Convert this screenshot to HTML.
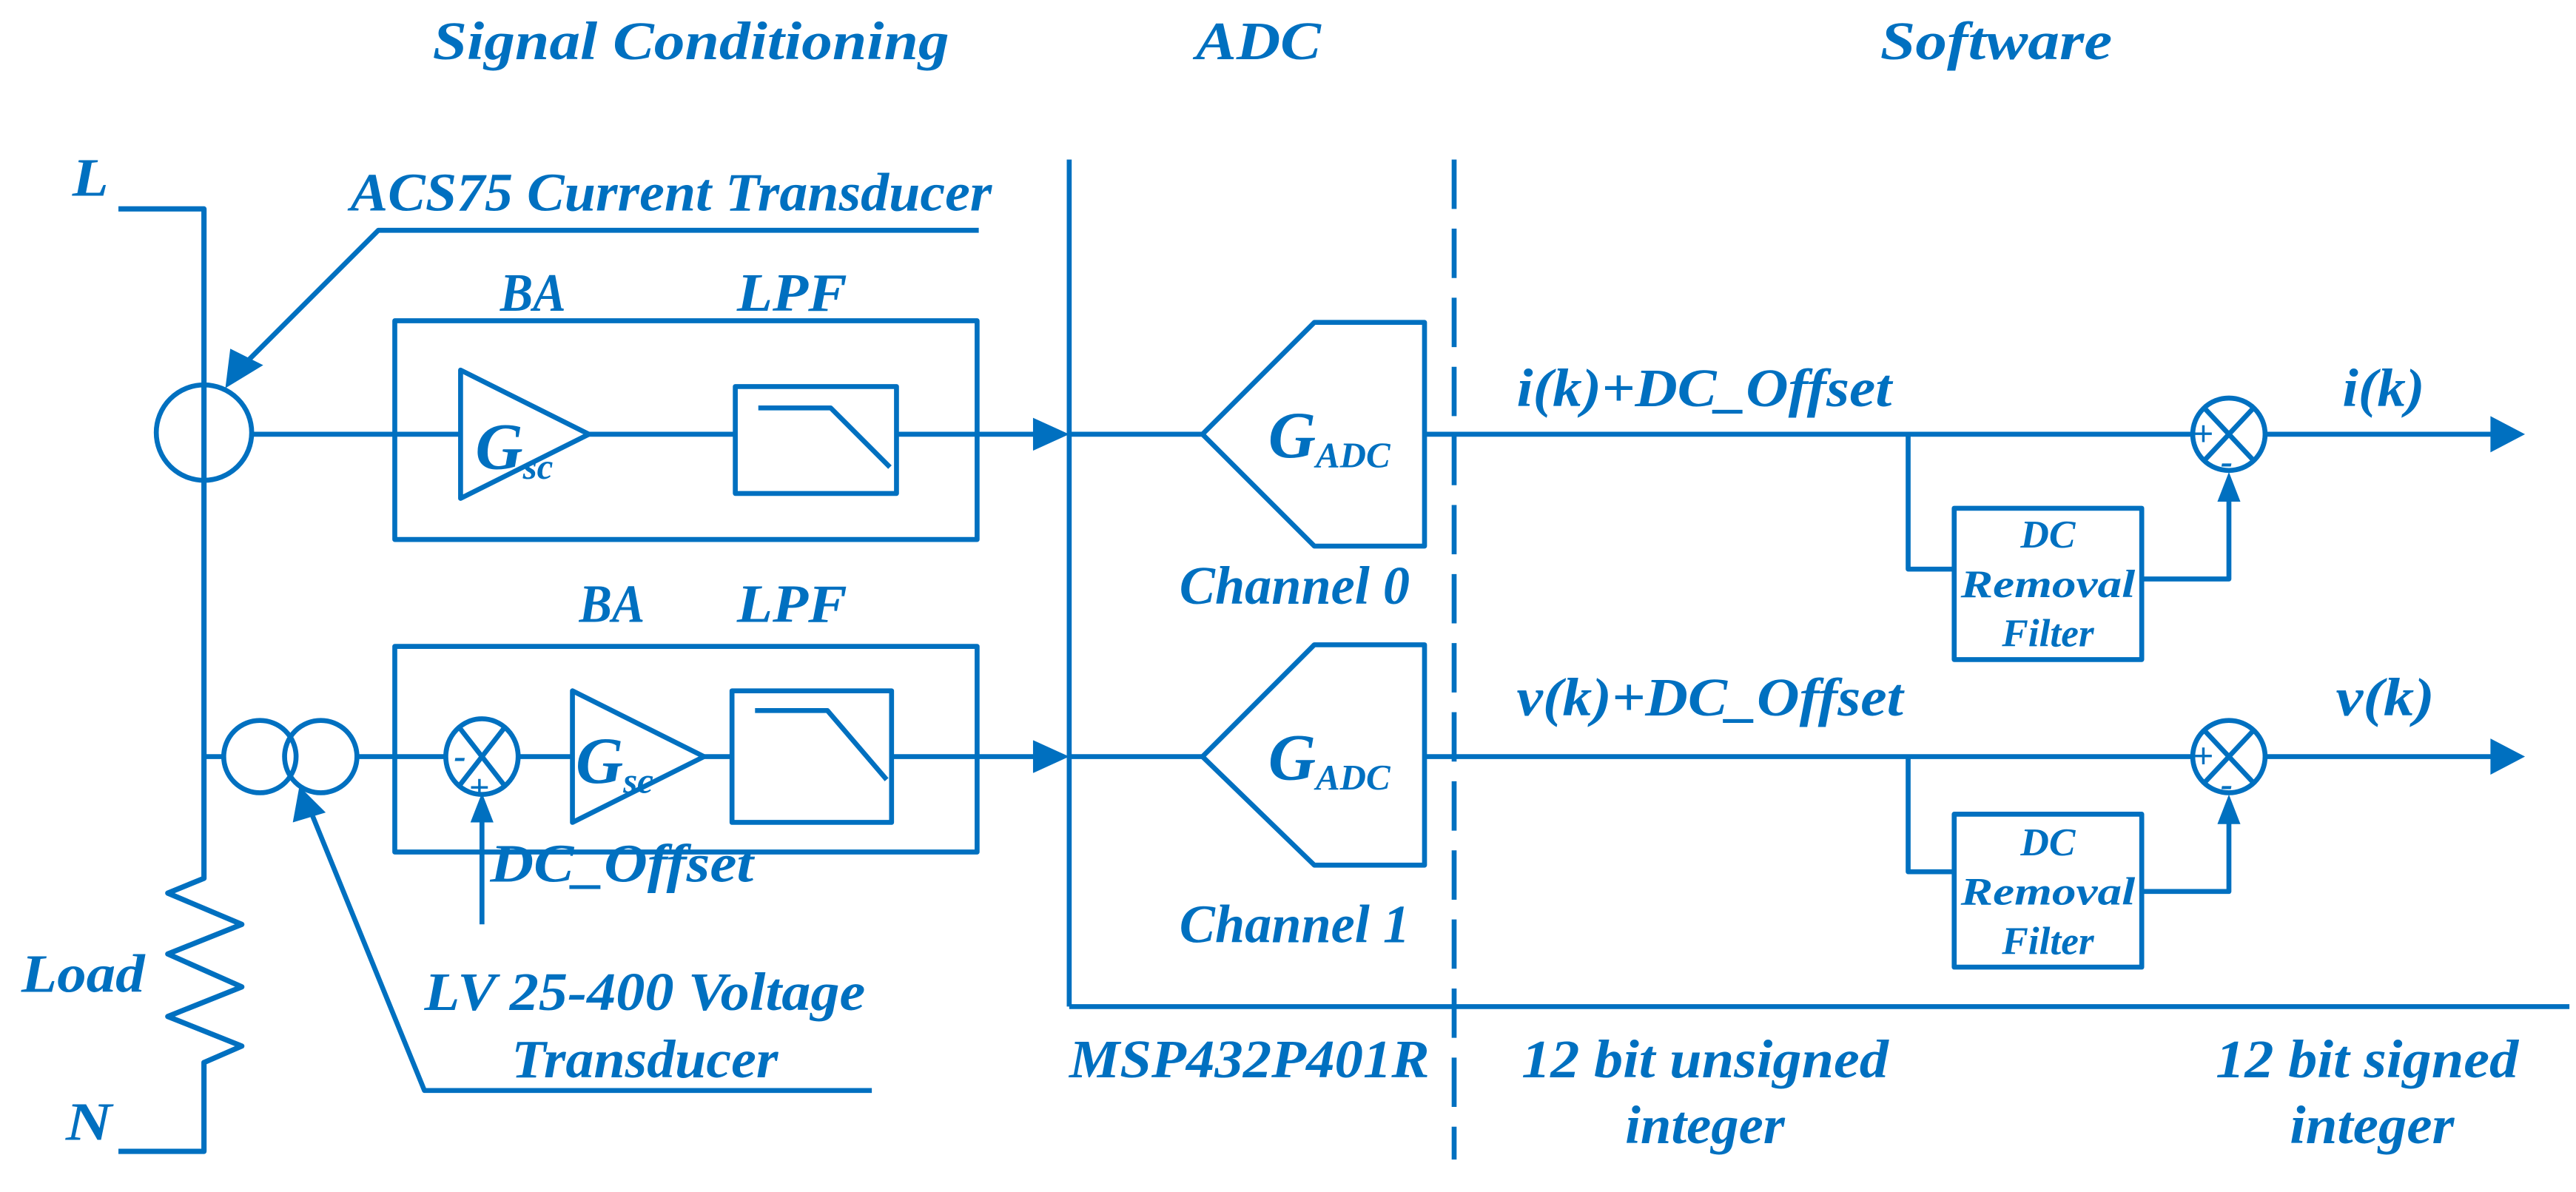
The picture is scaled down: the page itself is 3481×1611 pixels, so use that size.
<!DOCTYPE html>
<html><head><meta charset="utf-8"><style>
html,body{margin:0;padding:0;background:#fff}
svg{display:block}
text{font-family:"Liberation Serif",serif;font-style:italic;font-weight:bold;fill:#0070C0}
</style></head><body>
<svg width="3481" height="1611" viewBox="0 0 1566 724.7" xmlns="http://www.w3.org/2000/svg">
<g stroke="#0070C0" stroke-width="3" fill="none" stroke-linejoin="round">
<polyline points="72,127 124,127 124,534 102,543 147,562 102,580 147,600 102,618 147,636 124,646 124,700 72,700" stroke-width="3.2"/>
<polyline points="595,140 230,140 148,222"/>
<circle cx="124" cy="263" r="29"/>
<line x1="153" y1="264" x2="280" y2="264"/>
<rect x="240" y="195" width="354" height="133"/>
<polygon points="280,225 280,303 358,264"/>
<line x1="358" y1="264" x2="447" y2="264"/>
<rect x="447" y="235" width="98" height="65"/>
<polyline points="461,248 505,248 541,284"/>
<line x1="545" y1="264" x2="635" y2="264"/>
<line x1="124" y1="460" x2="136" y2="460"/>
<circle cx="158" cy="460" r="22"/>
<circle cx="195" cy="460" r="22"/>
<line x1="217" y1="460" x2="271" y2="460"/>
<rect x="240" y="393" width="354" height="125"/>
<ellipse cx="293" cy="460" rx="22" ry="23"/>
<line x1="279" y1="442" x2="307" y2="478"/><line x1="307" y1="442" x2="279" y2="478"/>
<line x1="293" y1="562" x2="293" y2="495"/>
<line x1="315" y1="460" x2="348" y2="460"/>
<polygon points="348,420 348,500 428,460"/>
<line x1="428" y1="460" x2="445" y2="460"/>
<rect x="445" y="420" width="97" height="80"/>
<polyline points="459,432 503,432 539,474"/>
<line x1="542" y1="460" x2="635" y2="460"/>
<polyline points="530,663 258,663 190,496"/>
<line x1="650" y1="97" x2="650" y2="612"/>
<line x1="650" y1="612" x2="1562" y2="612"/>
<line x1="884" y1="97" x2="884" y2="705" stroke-dasharray="30,12"/>
<polygon points="731,264 799,196 866,196 866,332 799,332"/>
<polygon points="731,460 799,392 866,392 866,526 799,526"/>
<line x1="650" y1="264" x2="731" y2="264"/>
<line x1="650" y1="460" x2="731" y2="460"/>
<line x1="866" y1="264" x2="1333" y2="264"/>
<circle cx="1355" cy="264" r="22"/>
<line x1="1340" y1="248" x2="1370" y2="280"/><line x1="1370" y1="248" x2="1340" y2="280"/>
<line x1="1377" y1="264" x2="1518" y2="264"/>
<polyline points="1160,264 1160,346 1188,346"/>
<rect x="1188" y="309" width="114" height="92"/>
<polyline points="1302,352 1355,352 1355,305"/>
<line x1="866" y1="460" x2="1333" y2="460"/>
<circle cx="1355" cy="460" r="22"/>
<line x1="1340" y1="444" x2="1370" y2="476"/><line x1="1370" y1="444" x2="1340" y2="476"/>
<line x1="1377" y1="460" x2="1518" y2="460"/>
<polyline points="1160,460 1160,530 1188,530"/>
<rect x="1188" y="495" width="114" height="93"/>
<polyline points="1302,542 1355,542 1355,500"/>
</g>
<g fill="#0070C0">
<polygon points="137,236 140,212 160,222"/>
<polygon points="182,478 178,500 198,494"/>
<polygon points="293,482 286,500 300,500"/>
<polygon points="650,264 628,254 628,274"/>
<polygon points="650,460 628,450 628,470"/>
<polygon points="1535,264 1514,253 1514,275"/>
<polygon points="1535,460 1514,449 1514,471"/>
<polygon points="1355,287 1348,305 1362,305"/>
<polygon points="1355,483 1348,501 1362,501"/>
</g>
<g font-size="33">
<text x="263" y="36" textLength="314" lengthAdjust="spacingAndGlyphs">Signal Conditioning</text>
<text x="727" y="36" textLength="76" lengthAdjust="spacingAndGlyphs">ADC</text>
<text x="1143" y="36" textLength="141" lengthAdjust="spacingAndGlyphs">Software</text>
<text x="44" y="119" textLength="22" lengthAdjust="spacingAndGlyphs">L</text>
<text x="40" y="693" textLength="28" lengthAdjust="spacingAndGlyphs">N</text>
<text x="13" y="603" textLength="75" lengthAdjust="spacingAndGlyphs">Load</text>
<text x="213" y="128" textLength="390" lengthAdjust="spacingAndGlyphs">ACS75 Current Transducer</text>
<text x="304" y="189" textLength="40" lengthAdjust="spacingAndGlyphs">BA</text>
<text x="448" y="189" textLength="67" lengthAdjust="spacingAndGlyphs">LPF</text>
<text x="352" y="378" textLength="40" lengthAdjust="spacingAndGlyphs">BA</text>
<text x="448" y="378" textLength="67" lengthAdjust="spacingAndGlyphs">LPF</text>
<text x="298" y="536" textLength="160" lengthAdjust="spacingAndGlyphs">DC_Offset</text>
<text x="258" y="614" textLength="268" lengthAdjust="spacingAndGlyphs">LV 25-400 Voltage</text>
<text x="311" y="655" textLength="162" lengthAdjust="spacingAndGlyphs">Transducer</text>
<text x="717" y="367" textLength="140" lengthAdjust="spacingAndGlyphs">Channel 0</text>
<text x="717" y="573" textLength="140" lengthAdjust="spacingAndGlyphs">Channel 1</text>
<text x="922" y="247" textLength="228" lengthAdjust="spacingAndGlyphs">i(k)+DC_Offset</text>
<text x="1424" y="247" textLength="50" lengthAdjust="spacingAndGlyphs">i(k)</text>
<text x="922" y="435" textLength="235" lengthAdjust="spacingAndGlyphs">v(k)+DC_Offset</text>
<text x="1420" y="435" textLength="60" lengthAdjust="spacingAndGlyphs">v(k)</text>
<text x="650" y="655" textLength="219" lengthAdjust="spacingAndGlyphs">MSP432P401R</text>
<text x="925" y="655" textLength="223" lengthAdjust="spacingAndGlyphs">12 bit unsigned</text>
<text x="988" y="695" textLength="97" lengthAdjust="spacingAndGlyphs">integer</text>
<text x="1347" y="655" textLength="184" lengthAdjust="spacingAndGlyphs">12 bit signed</text>
<text x="1392" y="695" textLength="100" lengthAdjust="spacingAndGlyphs">integer</text>
</g>
<g font-size="40" font-weight="normal">
<text x="289" y="285">G<tspan font-size="22" dy="6">sc</tspan></text>
<text x="350" y="476">G<tspan font-size="22" dy="6">sc</tspan></text>
<text x="771" y="278">G<tspan font-size="22" dy="6">ADC</tspan></text>
<text x="771" y="474">G<tspan font-size="22" dy="6">ADC</tspan></text>
</g>
<g font-size="24" font-weight="normal" text-anchor="middle">
<text x="1245" y="333">DC</text><text x="1245" y="363" textLength="106" lengthAdjust="spacingAndGlyphs">Removal</text><text x="1245" y="393">Filter</text>
<text x="1245" y="520">DC</text><text x="1245" y="550" textLength="106" lengthAdjust="spacingAndGlyphs">Removal</text><text x="1245" y="580">Filter</text>
</g>
<g font-size="22" font-weight="bold">
<text x="276" y="467">-</text><text x="285" y="486">+</text>
<text x="1333" y="271">+</text><text x="1350" y="288">-</text>
<text x="1333" y="467">+</text><text x="1350" y="484">-</text>
</g>
</svg>
</body></html>
